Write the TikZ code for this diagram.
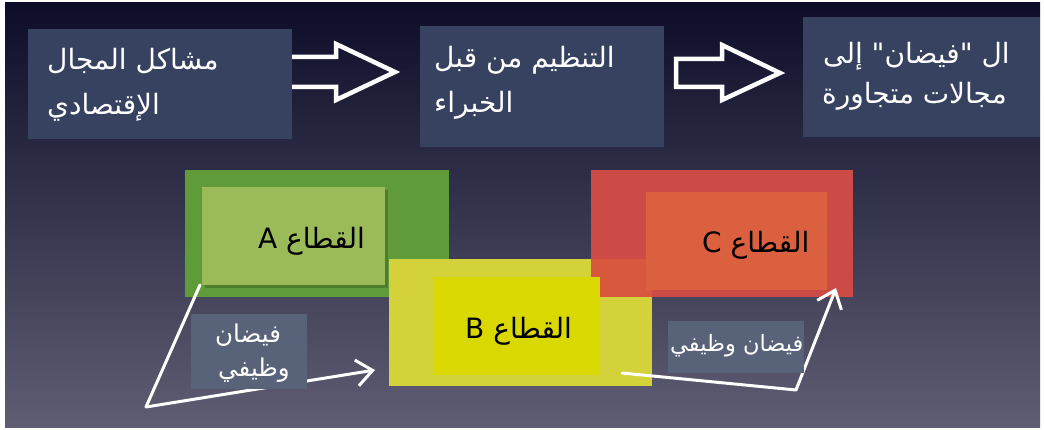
\documentclass[tikz,border=0pt]{standalone}
\usepackage{fontspec}
\newfontfamily\arabicfont[Script=Arabic]{DejaVu Sans}
\TeXXeTstate=1
\usetikzlibrary{arrows.meta}
\definecolor{bgtop}{RGB}{13,13,42}
\definecolor{bgmid}{RGB}{50,50,80}
\definecolor{bgbot}{RGB}{94,93,114}
\definecolor{boxblue}{RGB}{54,66,96}
\definecolor{gouter}{RGB}{96,155,57}
\definecolor{ginner}{RGB}{155,187,89}
\definecolor{gshadow}{RGB}{78,125,46}
\definecolor{youter}{RGB}{212,210,58}
\definecolor{yinner}{RGB}{217,216,0}
\definecolor{router}{RGB}{205,75,70}
\definecolor{rinner}{RGB}{218,96,64}
\definecolor{roverlap}{RGB}{216,88,62}
\definecolor{lblbox}{RGB}{88,98,120}
\tikzset{
  rectbox/.style={inner sep=0pt, outer sep=0pt, anchor=north west, draw=none},
  wtext/.style={text=white, inner sep=0pt, anchor=base west, font=\arabicfont\fontsize{28}{32}\selectfont},
  btext/.style={text=black, inner sep=0pt, anchor=base west, font=\arabicfont\fontsize{28}{32}\selectfont},
  ltext/.style={text=white, inner sep=0pt, anchor=base west, font=\arabicfont\fontsize{22.5}{26}\selectfont},
  lltext/.style={ltext, font=\arabicfont\fontsize{24.5}{28}\selectfont},
  hollow/.style={draw=white, line width=4.5pt, line join=miter},
  sketch/.style={draw=white, line width=3pt, line cap=round, line join=round,
    -{Straight Barb[length=16pt,width=26pt,line width=3pt]}}
}
\begin{document}
\begin{tikzpicture}[x=1pt,y=-1pt]
\useasboundingbox (0,0) rectangle (1044,430);
\fill[white] (0,0) rectangle (1044,430);
\shade[top color=bgtop, middle color=bgmid, bottom color=bgbot] (5,3) rectangle (1040,427);

% hollow arrows (shapes)
\draw[hollow] (290,57) -- (336,57) -- (336,44) -- (395,72) -- (336,100) -- (336,87) -- (290,87);
\draw[hollow] (676,59) -- (722,59) -- (722,45) -- (780,73) -- (722,100) -- (722,87) -- (676,87) -- cycle;

% top boxes
\node[rectbox, fill=boxblue, minimum width=264pt, minimum height=110pt] (p1) at (28,29) {};
\node[rectbox, fill=boxblue, minimum width=244pt, minimum height=121pt] (p2) at (420,26) {};
\node[rectbox, fill=boxblue, minimum width=237pt, minimum height=120pt] (p3) at (803,17) {};

\node[wtext] (p1a) at (47,70) {\beginR مشاكل المجال\endR};
\node[wtext] (p1b) at (47,115) {\beginR الإقتصادي\endR};
\node[wtext] (p2a) at (434,68) {\beginR التنظيم من قبل\endR};
\node[wtext] (p2b) at (434,113) {\beginR الخبراء\endR};
\node[wtext] (p3a) at (823,64) {\beginR ال "فيضان" إلى\endR};
\node[wtext] (p3b) at (822,104) {\beginR مجالات متجاورة\endR};

% sector A
\node[rectbox, fill=gouter, minimum width=264pt, minimum height=127pt] (ga) at (185,170) {};
\node[rectbox, fill=gshadow, minimum width=183pt, minimum height=98pt] (gs) at (205,190) {};
\node[rectbox, fill=ginner, minimum width=183pt, minimum height=98pt] (gi) at (202,187) {};
\node[btext] (ta) at (258,249) {\beginR القطاع \beginL A\endL\endR};

% sector B outer, sector C
\node[rectbox, fill=youter, minimum width=263pt, minimum height=127pt] (yb) at (389,259) {};
\node[rectbox, fill=router, minimum width=262pt, minimum height=127pt] (rc) at (591,170) {};
\node[rectbox, fill=roverlap, minimum width=61pt, minimum height=38pt] (ov) at (591,259) {};
\node[rectbox, fill=rinner, minimum width=181pt, minimum height=98pt] (ri) at (646,192) {};
\node[btext] (tc) at (702,253) {\beginR القطاع \beginL C\endL\endR};
\node[rectbox, fill=yinner, minimum width=167pt, minimum height=98pt] (yi) at (433,277) {};
\node[btext] (tb) at (465,338) {\beginR القطاع \beginL B\endL\endR};

% sketchy arrows
\coordinate (s1) at (200,285);
\coordinate (k1) at (146,407);
\coordinate (e1) at (375,370);
\draw[sketch] (s1) -- (k1) -- (e1);
\coordinate (s2) at (622,373);
\coordinate (k2) at (796,390);
\coordinate (e2) at (836,288);
\draw[sketch] (s2) -- (k2) -- (e2);

% labels
\node[rectbox, fill=lblbox, minimum width=116pt, minimum height=75pt] (l1) at (191,314) {};
\node[lltext] (l1a) at (215,342) {\beginR فيضان\endR};
\node[lltext] (l1b) at (218,376) {\beginR وظيفي\endR};
\node[rectbox, fill=lblbox, minimum width=136pt, minimum height=52pt] (l2) at (668,321) {};
\node[ltext] (l2a) at (670,352) {\beginR فيضان وظيفي\endR};
\end{tikzpicture}
\end{document}
